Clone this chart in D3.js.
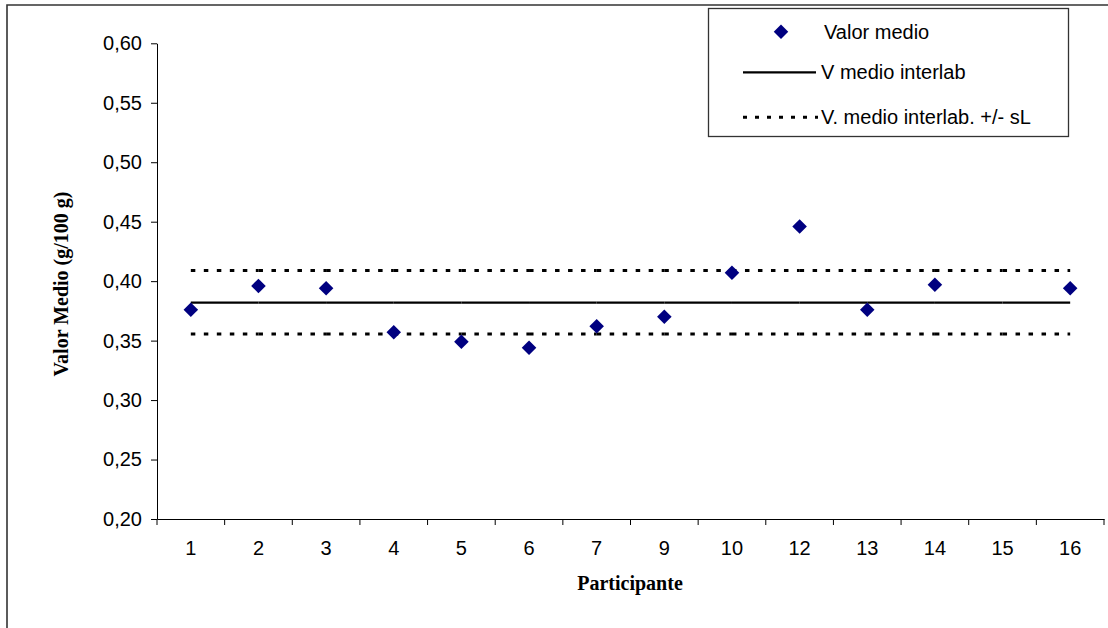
<!DOCTYPE html>
<html>
<head>
<meta charset="utf-8">
<script src="https://cdn.jsdelivr.net/npm/d3@7"></script>
<style>
  body { margin: 0; background: #fff; }
  text { font-family: "Liberation Sans", Arial, sans-serif; }
  .title { font-family: "Liberation Serif", "Times New Roman", serif; font-weight: bold; }
</style>
</head>
<body>
<script>
//-----------------Data----------------

const participants = ["1", "2", "3", "4", "5", "6", "7", "9", "10", "12", "13", "14", "15", "16"];
const meanValues = [0.376, 0.396, 0.394, 0.357, 0.349, 0.344, 0.362, 0.370, 0.407, 0.446, 0.376, 0.397, null, 0.394];
const interlabMean = 0.382;
const interlabUpper = 0.409;
const interlabLower = 0.3555;
const yTicks = [0.20, 0.25, 0.30, 0.35, 0.40, 0.45, 0.50, 0.55, 0.60];
const legendLabels = ["Valor medio", "V medio interlab", "V. medio interlab. +/- sL"];

//-----------------Main svg----------------

const width = 1108;
const height = 628;
const margin = { top: 43.3, right: 4, bottom: 109, left: 157 };

const svg = d3.select("body").append("svg").attr("width", width).attr("height", height);

// outer chart border (runs off the right and bottom)
svg
  .append("path")
  .attr("d", `M7,${height + 5} L7,5 L${width + 5},5`)
  .attr("fill", "none")
  .attr("stroke", "#333")
  .attr("stroke-width", 1.6);

//-----------------Scales----------------

const x = d3
  .scaleBand()
  .domain(participants)
  .range([margin.left, width - margin.right]);

const y = d3
  .scaleLinear()
  .domain([0.2, 0.6])
  .range([height - margin.bottom, margin.top]);

const locale = d3.formatLocale({ decimal: ",", thousands: ".", grouping: [3], currency: ["", "€"] });
const fmt = locale.format(".2f");
const cx = (p) => x(p) + x.bandwidth() / 2;

//-----------------Axes----------------

const yAxis = svg
  .append("g")
  .attr("transform", `translate(${margin.left},0)`)
  .call(d3.axisLeft(y).tickValues(yTicks).tickFormat(fmt).tickSize(6).tickSizeOuter(0).tickPadding(9));

const xAxis = svg
  .append("g")
  .attr("transform", `translate(0,${y(0.2)})`)
  .call(d3.axisBottom(x).tickSize(0).tickSizeOuter(0).tickPadding(22));

[yAxis, xAxis].forEach((g) => {
  g.selectAll("text").style("font-size", "20px").style("font-family", "'Liberation Sans', Arial, sans-serif").attr("fill", "#000");
  g.selectAll("line, path").attr("stroke", "#000");
});

// tick marks on the category boundaries
const boundaries = participants.map((p) => x(p)).concat([x(participants[participants.length - 1]) + x.bandwidth()]);
xAxis
  .selectAll(".bound")
  .data(boundaries)
  .enter()
  .append("line")
  .attr("class", "bound")
  .attr("x1", (d) => d)
  .attr("x2", (d) => d)
  .attr("y1", 0)
  .attr("y2", 6)
  .attr("stroke", "#000");

//-----------------Axis titles----------------

svg
  .append("text")
  .attr("class", "title")
  .attr("x", 630)
  .attr("y", 590)
  .attr("text-anchor", "middle")
  .style("font-size", "20px")
  .text("Participante");

svg
  .append("text")
  .attr("class", "title")
  .attr("transform", "translate(68,284) rotate(-90)")
  .attr("text-anchor", "middle")
  .style("font-size", "20px")
  .text("Valor Medio (g/100 g)");

//-----------------Reference lines----------------

const segments = d3.pairs(participants);
const dashStyle = "4.5,8.5";

function drawLine(value, dashed) {
  svg
    .append("g")
    .selectAll("line")
    .data(segments)
    .enter()
    .append("line")
    .attr("x1", (d) => cx(d[0]))
    .attr("x2", (d) => cx(d[1]))
    .attr("y1", y(value))
    .attr("y2", y(value))
    .attr("stroke", "#000")
    .attr("stroke-width", dashed ? 3 : 2.2)
    .attr("stroke-dasharray", dashed ? dashStyle : null);
}

drawLine(interlabUpper, true);
drawLine(interlabLower, true);
drawLine(interlabMean, false);

//-----------------Points----------------

const diamond = d3.symbol(d3.symbolSquare, 106);

svg
  .append("g")
  .selectAll("path")
  .data(participants.map((p, i) => ({ p, v: meanValues[i] })).filter((d) => d.v !== null))
  .enter()
  .append("path")
  .attr("d", diamond)
  .attr("transform", (d) => `translate(${cx(d.p)},${y(d.v)}) rotate(45)`)
  .attr("fill", "#000080");

//-----------------Legend----------------

const legend = svg.append("g").attr("id", "legend");

legend
  .append("rect")
  .attr("x", 708.5)
  .attr("y", 8.5)
  .attr("width", 360)
  .attr("height", 128)
  .attr("fill", "#fff")
  .attr("stroke", "#333")
  .attr("stroke-width", 1.3);

const rowY = [31.7, 72.3, 117.3];

legend
  .append("path")
  .attr("d", diamond)
  .attr("transform", `translate(781,${rowY[0]}) rotate(45)`)
  .attr("fill", "#000080");

legend
  .append("line")
  .attr("x1", 743)
  .attr("x2", 816)
  .attr("y1", rowY[1])
  .attr("y2", rowY[1])
  .attr("stroke", "#000")
  .attr("stroke-width", 2.2);

legend
  .append("line")
  .attr("x1", 743)
  .attr("x2", 818)
  .attr("y1", rowY[2])
  .attr("y2", rowY[2])
  .attr("stroke", "#000")
  .attr("stroke-width", 3)
  .attr("stroke-dasharray", "4,8");

legend
  .selectAll("text")
  .data(legendLabels)
  .enter()
  .append("text")
  .attr("x", (d, i) => (i === 0 ? 824 : 821))
  .attr("y", (d, i) => rowY[i] + 7)
  .style("font-size", "20px")
  .attr("fill", "#000")
  .text((d) => d);
</script>
</body>
</html>
